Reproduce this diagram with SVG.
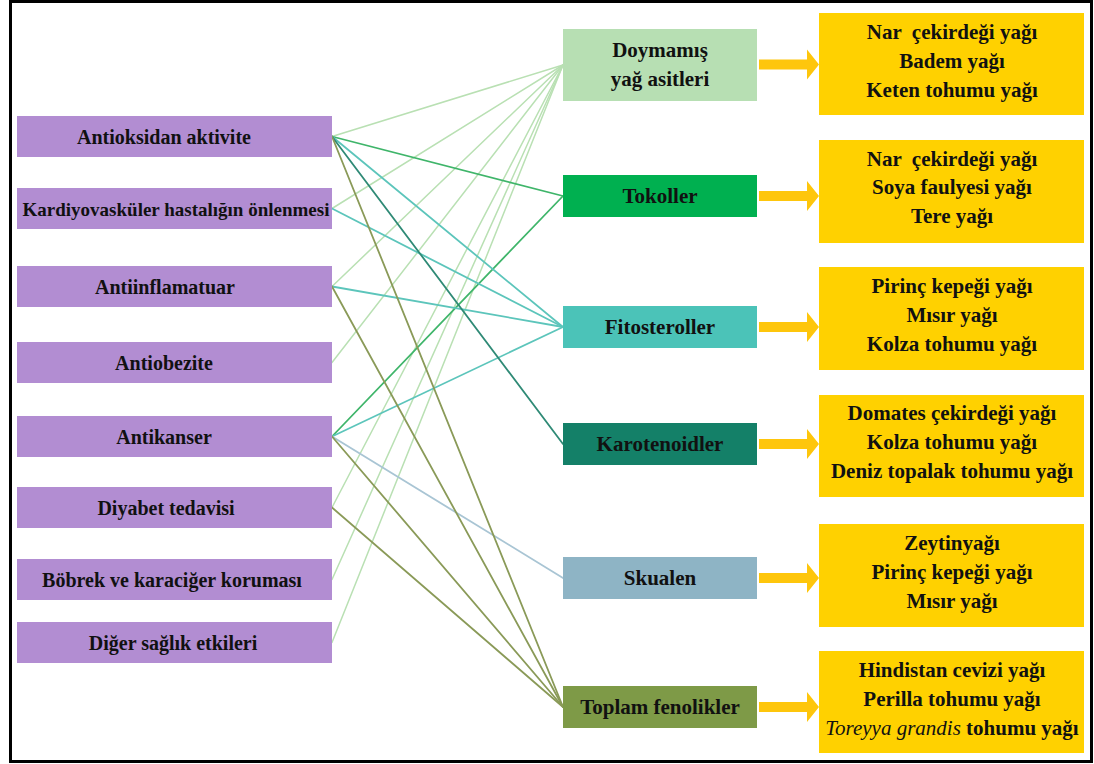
<svg xmlns="http://www.w3.org/2000/svg" width="1094" height="764" viewBox="0 0 1094 764">
<defs>
<style>
.l{fill:#b28dd2}
.lt{font-family:"Liberation Serif","Times New Roman",serif;font-weight:bold;font-size:20px;fill:#111;text-anchor:middle}
.mt{font-family:"Liberation Serif","Times New Roman",serif;font-weight:bold;font-size:21px;fill:#111;text-anchor:middle}
.yt{font-family:"Liberation Serif","Times New Roman",serif;font-weight:bold;font-size:21px;fill:#111;text-anchor:middle;white-space:pre}
.y{fill:#ffd100}
.ar{fill:#fec60c}
.c{fill:none;stroke-linecap:round}
.cd{stroke:#b9e0b3;stroke-width:1.5}
.ct{stroke:#3fb56a;stroke-width:1.8}
.cf{stroke:#5cc5bb;stroke-width:1.8}
.ck{stroke:#2f8a76;stroke-width:1.8}
.cs{stroke:#a9c5d4;stroke-width:1.8}
.cp{stroke:#8a9a58;stroke-width:1.8}
</style>
</defs>
<rect x="0" y="0" width="1094" height="764" fill="#fff"/>
<rect x="10.5" y="1.5" width="1081" height="760" fill="none" stroke="#000" stroke-width="3"/>

<g id="connectors" class="c">
<line class="cd" x1="332" y1="136.5" x2="563" y2="65"/>
<line class="cd" x1="332" y1="208.5" x2="563" y2="65"/>
<line class="cd" x1="332" y1="286.5" x2="563" y2="65"/>
<line class="cd" x1="332" y1="362.5" x2="563" y2="65"/>
<line class="cd" x1="332" y1="507.5" x2="563" y2="65"/>
<line class="cd" x1="332" y1="579.5" x2="563" y2="65"/>
<line class="cd" x1="332" y1="642.5" x2="563" y2="65"/>
<line class="ct" x1="332" y1="136.5" x2="563" y2="196"/>
<line class="ct" x1="332" y1="436.5" x2="563" y2="196"/>
<line class="cf" x1="332" y1="136.5" x2="563" y2="327"/>
<line class="cf" x1="332" y1="208.5" x2="563" y2="327"/>
<line class="cf" x1="332" y1="286.5" x2="563" y2="327"/>
<line class="cf" x1="332" y1="436.5" x2="563" y2="327"/>
<line class="ck" x1="332" y1="136.5" x2="563" y2="444"/>
<line class="cs" x1="332" y1="436.5" x2="563" y2="578"/>
<line class="cp" x1="332" y1="136.5" x2="563" y2="707"/>
<line class="cp" x1="332" y1="286.5" x2="563" y2="707"/>
<line class="cp" x1="332" y1="436.5" x2="563" y2="707"/>
<line class="cp" x1="332" y1="507.5" x2="563" y2="707"/>
</g>

<g id="n-antioksidan"><rect class="l" x="17" y="116" width="315" height="41"/><text class="lt" x="164" y="143.5">Antioksidan aktivite</text></g>
<g id="n-kardiyo"><rect class="l" x="17" y="188" width="315" height="41"/><text class="lt" x="176" y="215.5" style="font-size:19px">Kardiyovasküler hastalığın önlenmesi</text></g>
<g id="n-antiinflamatuar"><rect class="l" x="17" y="266" width="315" height="41"/><text class="lt" x="165" y="293.5">Antiinflamatuar</text></g>
<g id="n-antiobezite"><rect class="l" x="17" y="342" width="315" height="41"/><text class="lt" x="164" y="369.5">Antiobezite</text></g>
<g id="n-antikanser"><rect class="l" x="17" y="416" width="315" height="41"/><text class="lt" x="164" y="443.5">Antikanser</text></g>
<g id="n-diyabet"><rect class="l" x="17" y="487" width="315" height="41"/><text class="lt" x="166" y="514.5">Diyabet tedavisi</text></g>
<g id="n-bobrek"><rect class="l" x="17" y="559" width="315" height="41"/><text class="lt" x="172" y="586.5">Böbrek ve karaciğer koruması</text></g>
<g id="n-diger"><rect class="l" x="17" y="622" width="315" height="41"/><text class="lt" x="173" y="649.5">Diğer sağlık etkileri</text></g>

<g id="n-doymamis"><rect x="563" y="29" width="194" height="72" fill="#b7dfb3"/><text class="mt" x="660" y="57">Doymamış</text><text class="mt" x="660" y="86">yağ asitleri</text></g>
<g id="n-tokoller"><rect x="563" y="175" width="194" height="42" fill="#00b050"/><text class="mt" x="660" y="203">Tokoller</text></g>
<g id="n-fitosteroller"><rect x="563" y="306" width="194" height="42" fill="#4bc3b8"/><text class="mt" x="660" y="334">Fitosteroller</text></g>
<g id="n-karotenoidler"><rect x="563" y="423" width="194" height="42" fill="#148068"/><text class="mt" x="660" y="451">Karotenoidler</text></g>
<g id="n-skualen"><rect x="563" y="557" width="194" height="42" fill="#8eb4c5"/><text class="mt" x="660" y="585">Skualen</text></g>
<g id="n-toplam"><rect x="563" y="686" width="194" height="42" fill="#7e9a47"/><text class="mt" x="660" y="714">Toplam fenolikler</text></g>

<g id="arrows">
<path class="ar" d="M759 59.5h48v-10l12 15l-12 15v-10h-48z"/>
<path class="ar" d="M759 191h48v-10l12 15l-12 15v-10h-48z"/>
<path class="ar" d="M759 322h48v-10l12 15l-12 15v-10h-48z"/>
<path class="ar" d="M759 439h48v-10l12 15l-12 15v-10h-48z"/>
<path class="ar" d="M759 573h48v-10l12 15l-12 15v-10h-48z"/>
<path class="ar" d="M759 702h48v-10l12 15l-12 15v-10h-48z"/>
</g>

<g id="n-y1"><rect class="y" x="819" y="13" width="265" height="102"/>
<text class="yt" x="952" y="38.5" xml:space="preserve">Nar  çekirdeği yağı</text>
<text class="yt" x="952" y="68">Badem yağı</text>
<text class="yt" x="952" y="97">Keten tohumu yağı</text></g>
<g id="n-y2"><rect class="y" x="819" y="140" width="265" height="103"/>
<text class="yt" x="952" y="165.5" xml:space="preserve">Nar  çekirdeği yağı</text>
<text class="yt" x="952" y="194">Soya faulyesi yağı</text>
<text class="yt" x="952" y="222.5">Tere yağı</text></g>
<g id="n-y3"><rect class="y" x="819" y="267" width="265" height="103"/>
<text class="yt" x="952" y="292.5">Pirinç kepeği yağı</text>
<text class="yt" x="952" y="321.5">Mısır yağı</text>
<text class="yt" x="952" y="350.5">Kolza tohumu yağı</text></g>
<g id="n-y4"><rect class="y" x="819" y="395" width="265" height="102"/>
<text class="yt" x="952" y="420">Domates çekirdeği yağı</text>
<text class="yt" x="952" y="449">Kolza tohumu yağı</text>
<text class="yt" x="952" y="478">Deniz topalak tohumu yağı</text></g>
<g id="n-y5"><rect class="y" x="819" y="524" width="265" height="103"/>
<text class="yt" x="952" y="549.5">Zeytinyağı</text>
<text class="yt" x="952" y="578.5">Pirinç kepeği yağı</text>
<text class="yt" x="952" y="607.5">Mısır yağı</text></g>
<g id="n-y6"><rect class="y" x="819" y="651" width="265" height="102"/>
<text class="yt" x="952" y="676.5">Hindistan cevizi yağı</text>
<text class="yt" x="952" y="705.5">Perilla tohumu yağı</text>
<text class="yt" x="952" y="734.5"><tspan style="font-style:italic;font-weight:normal">Toreyya grandis</tspan> tohumu yağı</text></g>
</svg>
